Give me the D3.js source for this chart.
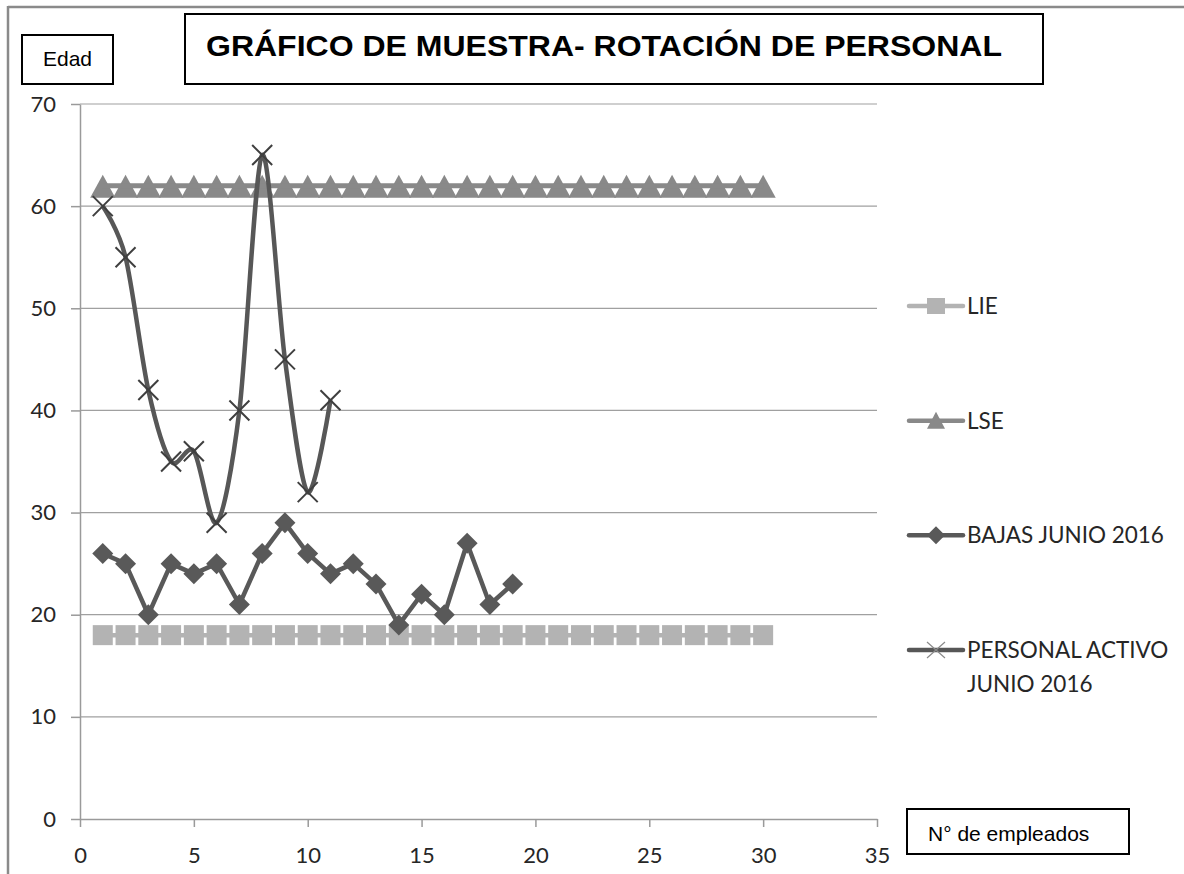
<!DOCTYPE html>
<html>
<head>
<meta charset="utf-8">
<script src="https://cdn.jsdelivr.net/npm/d3@7"></script>
<style>
  body { margin: 0; background: #fff; }
  svg { display: block; }
</style>
</head>
<body>
<svg id="chart" width="1184" height="874"></svg>
<script>
// values
var empleados = d3.range(1, 31);            // 1..30
var lie = empleados.map(function() { return 18; });
var lse = empleados.map(function() { return 62; });
var bajas = [26, 25, 20, 25, 24, 25, 21, 26, 29, 26, 24, 25, 23, 19, 22, 20, 27, 21, 23];
var activo = [60, 55, 42, 35, 36, 29, 40, 65, 45, 32, 41];
var xTicks = [0, 5, 10, 15, 20, 25, 30, 35];
var yTicks = [0, 10, 20, 30, 40, 50, 60, 70];

var legendItems = [
  { name: ["LIE"], key: "lie" },
  { name: ["LSE"], key: "lse" },
  { name: ["BAJAS JUNIO 2016"], key: "bajas" },
  { name: ["PERSONAL ACTIVO", "JUNIO 2016"], key: "activo" }
];

var svg = d3.select("#chart");
var tickFont = "Lato, 'Open Sans', sans-serif";
var arial = "'Liberation Sans', Arial, sans-serif";

var x = d3.scaleLinear().domain([0, 35]).range([80, 877]);
var y = d3.scaleLinear().domain([0, 70]).range([819, 104]);

var colors = { lie: "#b3b3b3", lse: "#898989", bajas: "#595959", activo: "#575757" };

// outer frame (only top + left are in view)
svg.append("line").attr("x1", 8).attr("x2", 1184).attr("y1", 7).attr("y2", 7)
   .attr("stroke", "#8a8a8a").attr("stroke-width", 2.5);
svg.append("line").attr("x1", 8).attr("x2", 8).attr("y1", 6).attr("y2", 874)
   .attr("stroke", "#8a8a8a").attr("stroke-width", 2.5);

// gridlines
svg.append("g")
   .selectAll("line")
   .data(yTicks.slice(1))
   .join("line")
   .attr("x1", x(0)).attr("x2", x(35))
   .attr("y1", d => y(d)).attr("y2", d => y(d))
   .attr("stroke", "#a0a0a0").attr("stroke-width", 1.2);

// axes
var yAxis = svg.append("g")
   .attr("transform", "translate(" + x(0) + ",0)")
   .call(d3.axisLeft(y).tickValues(yTicks).tickSize(9).tickPadding(15).tickSizeOuter(0));
var xAxis = svg.append("g")
   .attr("transform", "translate(0," + y(0) + ")")
   .call(d3.axisBottom(x).tickValues(xTicks).tickSize(8).tickPadding(20).tickSizeOuter(0));

[yAxis, xAxis].forEach(function(ax) {
  ax.select(".domain").attr("stroke", "#9a9a9a").attr("stroke-width", 1.5);
  ax.selectAll(".tick line").attr("stroke", "#9a9a9a").attr("stroke-width", 1.5);
  ax.selectAll(".tick text").attr("fill", "#262626")
    .style("font-family", tickFont).style("font-size", "22px");
});

// series
var straight = d3.line().x((d, i) => x(i + 1)).y(d => y(d));
var smooth = d3.line().x((d, i) => x(i + 1)).y(d => y(d)).curve(d3.curveCardinal.tension(0.1));

// LIE
svg.append("path").datum(lie).attr("d", straight)
   .attr("fill", "none").attr("stroke", colors.lie).attr("stroke-width", 4.5);
svg.append("g").selectAll("rect").data(lie).join("rect")
   .attr("x", (d, i) => x(i + 1) - 10).attr("y", d => y(d) - 10)
   .attr("width", 20).attr("height", 20).attr("fill", colors.lie);

// LSE (overlapping triangles leave small white notches under the line)
svg.append("g").selectAll("path").data(lse).join("path")
   .attr("transform", (d, i) => "translate(" + x(i + 1) + "," + y(d) + ")")
   .attr("d", "M0,-11L12.6,12L-12.6,12Z")
   .attr("fill", colors.lse);
svg.append("path").datum(lse).attr("d", straight)
   .attr("fill", "none").attr("stroke", colors.lse).attr("stroke-width", 5);

// BAJAS
svg.append("path").datum(bajas).attr("d", straight)
   .attr("fill", "none").attr("stroke", colors.bajas).attr("stroke-width", 4.5)
   .attr("stroke-linejoin", "round");
svg.append("g").selectAll("path").data(bajas).join("path")
   .attr("transform", (d, i) => "translate(" + x(i + 1) + "," + y(d) + ")")
   .attr("d", "M0,-10.5L10.5,0L0,10.5L-10.5,0Z")
   .attr("fill", colors.bajas);

// PERSONAL ACTIVO
svg.append("path").datum(activo).attr("d", smooth)
   .attr("fill", "none").attr("stroke", colors.activo).attr("stroke-width", 4.5);
svg.append("g").selectAll("path").data(activo).join("path")
   .attr("transform", (d, i) => "translate(" + x(i + 1) + "," + y(d) + ")")
   .attr("d", "M-10,-10L10,10M-10,10L10,-10")
   .attr("stroke", "#3f3f3f").attr("stroke-width", 2).attr("fill", "none");

// legend
var legY = d3.scalePoint().domain(legendItems.map(d => d.key)).range([306, 650]);
var leg = svg.append("g").selectAll("g").data(legendItems).join("g")
   .attr("transform", d => "translate(909," + legY(d.key) + ")");
leg.append("line").attr("x1", 0).attr("x2", 54)
   .attr("stroke", d => colors[d.key]).attr("stroke-width", 4.5)
   .attr("stroke-linecap", "round");
leg.each(function(d) {
  var g = d3.select(this);
  if (d.key === "lie") g.append("rect").attr("x", 18).attr("y", -8).attr("width", 18).attr("height", 16).attr("fill", colors.lie);
  if (d.key === "lse") g.append("path").attr("d", "M27,-9L36,8L18,8Z").attr("fill", colors.lse);
  if (d.key === "bajas") g.append("path").attr("d", "M27,-9L36,0L27,9L18,0Z").attr("fill", colors.bajas);
  if (d.key === "activo") g.append("path").attr("d", "M18,-8L36,8M18,8L36,-8").attr("stroke", "#8a8a8a").attr("stroke-width", 1.2);
});
leg.append("text")
   .attr("fill", "#262626")
   .style("font-family", tickFont).style("font-size", "22.5px")
   .selectAll("tspan").data(d => d.name).join("tspan")
   .attr("x", 58).attr("dy", (t, i) => i === 0 ? "0.36em" : "1.5em")
   .text(t => t);

// boxed labels
function box(x0, y0, w, h) {
  svg.append("rect").attr("x", x0).attr("y", y0).attr("width", w).attr("height", h)
     .attr("fill", "#fff").attr("stroke", "#000").attr("stroke-width", 2);
}
box(185, 14, 858, 70);
svg.append("text").attr("x", 206).attr("y", 56)
   .attr("textLength", 796).attr("lengthAdjust", "spacingAndGlyphs")
   .style("font-family", arial).style("font-weight", "bold").style("font-size", "30px")
   .text("GRÁFICO DE MUESTRA- ROTACIÓN DE PERSONAL");

box(22, 35, 91, 49);
svg.append("text").attr("x", 67.5).attr("y", 66).attr("text-anchor", "middle")
   .style("font-family", arial).style("font-size", "21px")
   .text("Edad");

box(907, 809, 222, 45);
svg.append("text").attr("x", 928).attr("y", 841)
   .style("font-family", arial).style("font-size", "21px")
   .text("N° de empleados");
</script>
</body>
</html>
